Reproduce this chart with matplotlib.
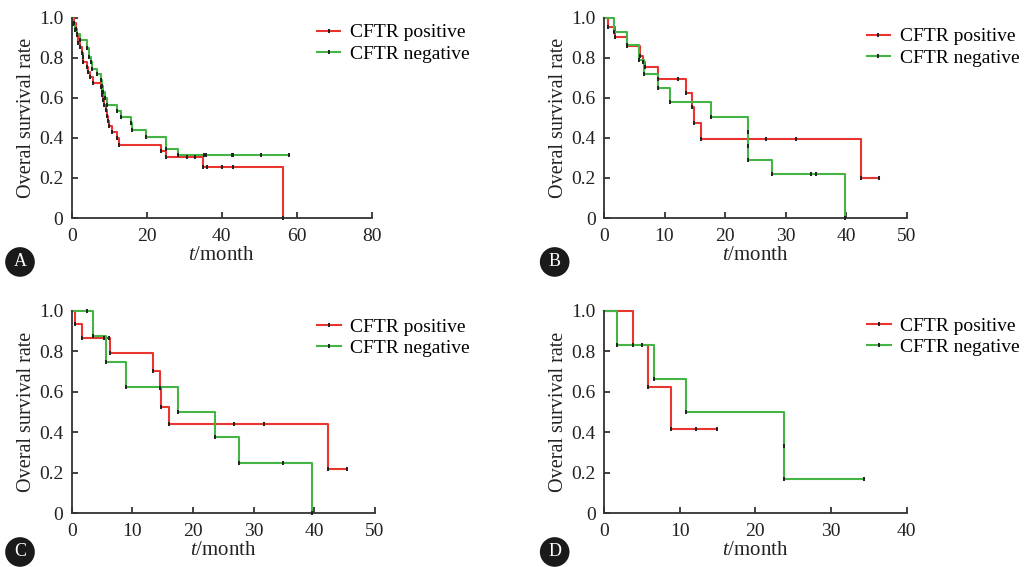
import numpy as np
import matplotlib
matplotlib.use("Agg")
import matplotlib.pyplot as plt
from matplotlib.lines import Line2D

plt.rcParams['font.family'] = ['Liberation Serif', 'DejaVu Serif']
plt.rcParams['mathtext.fontset'] = 'custom'
plt.rcParams['mathtext.it'] = 'Liberation Serif:italic'
plt.rcParams['mathtext.rm'] = 'Liberation Serif'

RED = '#e8352f'
GREEN = '#44b444'

# Panel A
a_pos_t = [0.6, 1.1, 1.3, 1.8, 2.2, 2.7, 2.9, 3.1, 4.0, 4.4, 4.9, 5.8, 7.8, 8.0, 8.2,
           8.4, 8.7, 9.1, 9.3, 9.6, 10.0, 10.7, 12.0, 12.6, 23.8, 25.2, 34.9, 56.3]
a_pos_s = [0.974, 0.946, 0.913, 0.876, 0.855, 0.825, 0.805, 0.78, 0.755, 0.73, 0.705, 0.675,
           0.655, 0.63, 0.615, 0.59, 0.564, 0.54, 0.51, 0.484, 0.459, 0.43, 0.397, 0.364,
           0.336, 0.306, 0.256, 0.0]
a_pos_cens = [30.7, 32.9, 36.0, 40.0, 42.9]
a_neg_t = [0.3, 0.9, 1.3, 2.2, 4.0, 4.7, 5.1, 5.5, 6.7, 7.8, 8.2, 8.4, 8.9, 9.3, 12.2,
           13.1, 15.7, 16.2, 19.8, 25.0, 28.4]
a_neg_s = [0.97, 0.94, 0.92, 0.89, 0.85, 0.805, 0.78, 0.746, 0.72, 0.688, 0.658, 0.63,
           0.597, 0.564, 0.535, 0.502, 0.472, 0.439, 0.406, 0.347, 0.314]
a_neg_cens = [35.3, 35.7, 42.7, 43.1, 50.5, 57.8]

# Panel B
b_pos_t = [0.7, 1.8, 3.85, 5.9, 6.4, 6.8, 8.9, 13.5, 14.6, 14.9, 16.1, 42.4]
b_pos_s = [0.955, 0.906, 0.857, 0.807, 0.78, 0.753, 0.692, 0.623, 0.552, 0.474, 0.395, 0.198]
b_pos_cens = [12.3, 26.8, 31.8, 45.5]
b_neg_t = [1.65, 3.74, 5.8, 6.65, 9.0, 10.9, 17.7, 23.8, 23.8, 23.8, 27.7, 39.8]
b_neg_s = [0.93, 0.862, 0.79, 0.72, 0.647, 0.577, 0.502, 0.43, 0.36, 0.288, 0.219, 0.0]
b_neg_cens = [34.2, 35.0]

# Panel C
c_pos_t = [0.55, 1.76, 6.4, 13.35, 14.6, 14.8, 16.0, 42.3]
c_pos_s = [0.934, 0.865, 0.794, 0.705, 0.618, 0.527, 0.44, 0.219]
c_pos_cens = [5.3, 6.2, 26.8, 31.7, 45.4]
c_neg_t = [3.57, 5.66, 8.9, 17.5, 23.7, 27.6, 39.7]
c_neg_s = [0.876, 0.75, 0.623, 0.498, 0.376, 0.25, 0.0]
c_neg_cens = [2.5, 34.9]

# Panel D
d_pos_t = [3.9, 5.86, 8.8]
d_pos_s = [0.832, 0.623, 0.415]
d_pos_cens = [5.0, 12.2, 15.0]
d_neg_t = [1.67, 6.6, 10.9, 23.8, 23.8]
d_neg_s = [0.832, 0.664, 0.5, 0.333, 0.166]
d_neg_cens = [34.3]

panels = [
    ('A', [0.0695, 0.6155, 0.2913, 0.3533], 80, 20,
     (a_pos_t, a_pos_s, a_pos_cens), (a_neg_t, a_neg_s, a_neg_cens), (0.817, 0.97), (0.0194, 0.538)),
    ('B', [0.5858, 0.6155, 0.2936, 0.3533], 50, 10,
     (b_pos_t, b_pos_s, b_pos_cens), (b_neg_t, b_neg_s, b_neg_cens), (0.868, 0.95), (0.538, 0.538)),
    ('C', [0.0695, 0.0952, 0.2942, 0.3563], 50, 10,
     (c_pos_t, c_pos_s, c_pos_cens), (c_neg_t, c_neg_s, c_neg_cens), (0.81, 0.965), (0.0194, 0.0265)),
    ('D', [0.5858, 0.0952, 0.2936, 0.3563], 40, 10,
     (d_pos_t, d_pos_s, d_pos_cens), (d_neg_t, d_neg_s, d_neg_cens), (0.87, 0.97), (0.538, 0.0265)),
]


def draw_km(ax, t, s, cens, color):
    end = max(t + cens)
    xs = [0] + t + [end]
    ys = [1.0] + s + [s[-1]]
    ax.step(xs, ys, where='post', color=color, lw=1.5, clip_on=False, zorder=2)
    # censor marks: survival value at that time
    tt = np.array(t)
    cs = []
    for c in cens:
        i = np.searchsorted(tt, c, side='right')
        cs.append(1.0 if i == 0 else s[i - 1])
    ax.plot(t + cens, s + cs, ls='none', marker='|', ms=3.5, mew=1.4,
            color='#222222', clip_on=False, zorder=3)


fig = plt.figure(figsize=(10.31, 5.67), dpi=100)

for letter, rect, xmax, xstep, pos, neg, leg_xy, lab_xy in panels:
    ax = fig.add_axes(rect)
    draw_km(ax, *pos, RED)
    draw_km(ax, *neg, GREEN)
    ax.set_xlim(0, xmax)
    ax.set_ylim(0, 1.0)
    ax.set_xticks(np.arange(0, xmax + 1, xstep))
    ax.set_yticks([0, 0.2, 0.4, 0.6, 0.8, 1.0])
    ax.set_yticklabels(['0', '0.2', '0.4', '0.6', '0.8', '1.0'])
    for sp in ['top', 'right']:
        ax.spines[sp].set_visible(False)
    for sp in ['left', 'bottom']:
        ax.spines[sp].set_linewidth(1.3)
        ax.spines[sp].set_color('#333333')
    ax.tick_params(direction='in', length=4, width=1.3, color='#333333',
                   labelsize=14, labelcolor='#222222')
    ax.tick_params(axis='y', pad=6)
    ax.tick_params(axis='x', pad=7)
    ax.set_ylabel('Overal survival rate', fontsize=14.5, color='#222222', labelpad=2)
    ax.set_xlabel(r'$\it{t}$/month', fontsize=15, color='#222222', labelpad=1)

    handles = [
        Line2D([], [], color=RED, lw=1.5, marker='|', ms=3, mew=1.4, mec='#222222'),
        Line2D([], [], color=GREEN, lw=1.5, marker='|', ms=3, mew=1.4, mec='#222222'),
    ]
    ax.legend(handles, ['CFTR positive', 'CFTR negative'], loc='upper left',
              bbox_to_anchor=leg_xy, frameon=False, fontsize=14, borderpad=0,
              borderaxespad=0, handlelength=1.2, handletextpad=0.5,
              labelspacing=0.2, markerscale=1)

    fig.text(lab_xy[0], lab_xy[1], letter, color='white', fontsize=13,
             ha='center', va='center',
             bbox=dict(boxstyle='circle,pad=0.35', fc='#1a1a1a', ec='none'))

fig.savefig('out.png', dpi=100)
